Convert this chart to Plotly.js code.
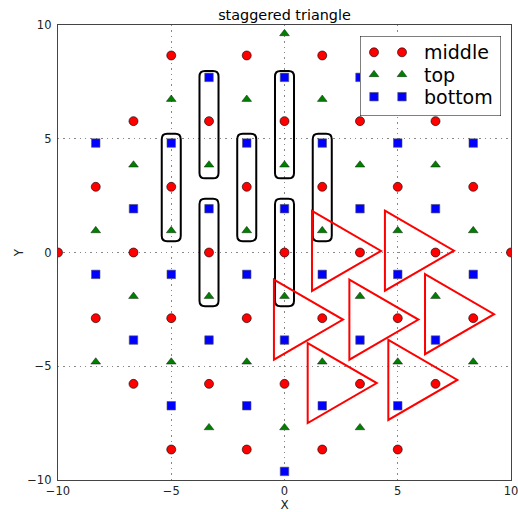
<!DOCTYPE html>
<html>
<head>
<meta charset="utf-8">
<script src="https://cdn.plot.ly/plotly-3.0.1.min.js"></script>
<style>
  html, body { margin: 0; padding: 0; background: #fff; }
  #chart { width: 518px; height: 512px; }
</style>
</head>
<body>
<div id="chart"></div>
<script>
// lattice points
let middleX = [-10,
    -8.333, -8.333,
    -6.667, -6.667, -6.667,
    -5, -5, -5, -5,
    -3.333, -3.333, -3.333,
    -1.667, -1.667, -1.667, -1.667,
    0, 0, 0,
    1.667, 1.667, 1.667, 1.667,
    3.333, 3.333, 3.333,
    5, 5, 5, 5,
    6.667, 6.667, 6.667,
    8.333, 8.333,
    10];
let middleY = [0,
    2.887, -2.887,
    5.774, 0, -5.774,
    8.66, 2.887, -2.887, -8.66,
    5.774, 0, -5.774,
    8.66, 2.887, -2.887, -8.66,
    5.774, 0, -5.774,
    8.66, 2.887, -2.887, -8.66,
    5.774, 0, -5.774,
    8.66, 2.887, -2.887, -8.66,
    5.774, 0, -5.774,
    2.887, -2.887,
    0];

let topX = [-8.333, -8.333,
    -6.667, -6.667,
    -5, -5, -5,
    -3.333, -3.333, -3.333,
    -1.667, -1.667, -1.667,
    0, 0, 0, 0,
    1.667, 1.667, 1.667,
    3.333, 3.333, 3.333,
    5, 5, 5,
    6.667, 6.667,
    8.333, 8.333];
let topY = [0.962, -4.811,
    3.849, -1.925,
    6.736, 0.962, -4.811,
    3.849, -1.925, -7.698,
    6.736, 0.962, -4.811,
    9.623, 3.849, -1.925, -7.698,
    6.736, 0.962, -4.811,
    3.849, -1.925, -7.698,
    6.736, 0.962, -4.811,
    3.849, -1.925,
    0.962, -4.811];

let bottomX = [-8.333, -8.333,
    -6.667, -6.667,
    -5, -5, -5,
    -3.333, -3.333, -3.333,
    -1.667, -1.667, -1.667,
    0, 0, 0, 0,
    1.667, 1.667, 1.667,
    3.333, 3.333, 3.333,
    5, 5, 5,
    6.667, 6.667,
    8.333, 8.333];
let bottomY = [4.811, -0.962,
    1.925, -3.849,
    4.811, -0.962, -6.736,
    7.698, 1.925, -3.849,
    4.811, -0.962, -6.736,
    7.698, 1.925, -3.849, -9.623,
    4.811, -0.962, -6.736,
    7.698, 1.925, -3.849,
    4.811, -0.962, -6.736,
    1.925, -3.849,
    4.811, -0.962];

// black rounded boxes: centres
let boxX = [-5, -3.333, -3.333, -1.667, 0, 0, 1.667];
let boxY = [2.86, 5.62, 0, 2.86, 5.62, 0, 2.86];
// red triangles (pointing right): centroids
let triX = [2.23, 5.45, 0.55, 3.88, 7.22, 2.04, 5.60];
let triY = [0.07, 0.08, -2.95, -2.95, -2.71, -5.74, -5.60];

let seriesNames = ['middle', 'top', 'bottom'];
let tickVals = [-10, -5, 0, 5, 10];

let font = 'DejaVu Sans, Liberation Sans, sans-serif';
let markerStyle = [
    {symbol: 'circle', size: 9, color: '#ff0000', line: {color: '#000', width: 0.6}},
    {symbol: 'triangle-up', size: 8.5, color: '#007f00', line: {color: '#000', width: 0.4}},
    {symbol: 'square', size: 8.5, color: '#0000ff', line: {color: '#555', width: 0.6}},
];

let data = [
    {x: middleX, y: middleY, name: seriesNames[0], mode: 'markers', marker: markerStyle[0], showlegend: false},
    {x: topX, y: topY, name: seriesNames[1], mode: 'markers', marker: markerStyle[1], showlegend: false},
    {x: bottomX, y: bottomY, name: seriesNames[2], mode: 'markers', marker: markerStyle[2], showlegend: false},
];

let shapes = [];

// rounded boxes around the vertical triples
let hw = 0.42, hh = 2.36, r = 0.24;
for (let i = 0; i < boxX.length; ++i) {
    let x0 = boxX[i] - hw, x1 = boxX[i] + hw;
    let y0 = boxY[i] - hh, y1 = boxY[i] + hh;
    let p = `M ${x0 + r},${y0} L ${x1 - r},${y0} Q ${x1},${y0} ${x1},${y0 + r} ` +
        `L ${x1},${y1 - r} Q ${x1},${y1} ${x1 - r},${y1} L ${x0 + r},${y1} ` +
        `Q ${x0},${y1} ${x0},${y1 - r} L ${x0},${y0 + r} Q ${x0},${y0} ${x0 + r},${y0} Z`;
    shapes.push({type: 'path', xref: 'x', yref: 'y', path: p, layer: 'between',
        line: {color: '#000', width: 2}, fillcolor: 'rgba(0,0,0,0)'});
}

// equilateral triangles, flat side on the left
let side = 3.52;
let tw = side * Math.sqrt(3) / 2, th = side / 2;
for (let i = 0; i < triX.length; ++i) {
    let xl = triX[i] - tw / 3, xr = triX[i] + 2 * tw / 3;
    let p = `M ${xl},${triY[i] + th} L ${xr},${triY[i]} L ${xl},${triY[i] - th} Z`;
    shapes.push({type: 'path', xref: 'x', yref: 'y', path: p, layer: 'between',
        line: {color: '#ff0000', width: 2}, fillcolor: 'rgba(0,0,0,0)'});
}

// legend drawn by hand on a second subplot (two markers per entry, like the original)
let legW = 141, legH = 80;
let legMarkX = [14, 42], legTextX = 62, legRow0 = 16.3, legRowH = 22.2;
shapes.push({type: 'rect', xref: 'x2', yref: 'y2', x0: 0, x1: legW, y0: 0, y1: legH, layer: 'below',
    line: {color: '#000', width: 1}, fillcolor: '#fff'});
let annotations = [];
for (let i = 0; i < seriesNames.length; ++i) {
    let ry = legRow0 + i * legRowH;
    data.push({x: legMarkX, y: [ry, ry], xaxis: 'x2', yaxis: 'y2', mode: 'markers',
        marker: markerStyle[i], showlegend: false, hoverinfo: 'skip', cliponaxis: false});
    annotations.push({xref: 'x2', yref: 'y2', x: legTextX, y: ry, text: seriesNames[i],
        showarrow: false, xanchor: 'left', yanchor: 'middle',
        font: {family: font, size: 19, color: '#000'}});
}

let axisCommon = {
    range: [-10, 10],
    tickvals: tickVals,
    ticks: '',
    showgrid: true,
    gridcolor: '#888',
    gridwidth: 1,
    griddash: '1.4px,4px',
    zeroline: false,
    showline: true,
    mirror: true,
    linecolor: '#444',
    linewidth: 1.2,
    tickfont: {family: font, size: 11.5, color: '#222'},
    ticklabeloverflow: 'allow',
    fixedrange: true,
};

let layout = {
    width: 518,
    height: 512,
    margin: {l: 58, r: 7, t: 25, b: 32, pad: 0},
    paper_bgcolor: '#fff',
    plot_bgcolor: '#fff',
    showlegend: false,
    title: {
        text: 'staggered triangle',
        font: {family: font, size: 14.4, color: '#000'},
        x: 0.5, xref: 'paper', xanchor: 'center',
        y: 1 - 15 / 512, yref: 'container', yanchor: 'middle',
    },
    xaxis: Object.assign({}, axisCommon, {
        title: {text: 'X', font: {family: font, size: 12, color: '#222'}, standoff: 4},
        ticklabelstandoff: 0,
    }),
    yaxis: Object.assign({}, axisCommon, {
        title: {text: 'Y', font: {family: font, size: 12, color: '#222'}, standoff: 1},
        ticklabelstandoff: 3,
    }),
    xaxis2: {domain: [302 / 453, 443 / 453], range: [0, legW], anchor: 'y2', visible: false, fixedrange: true},
    yaxis2: {domain: [364 / 455, 444 / 455], range: [legH, 0], anchor: 'x2', visible: false, fixedrange: true},
    shapes: shapes,
    annotations: annotations,
};

Plotly.newPlot('chart', data, layout, {staticPlot: true});
</script>
</body>
</html>
